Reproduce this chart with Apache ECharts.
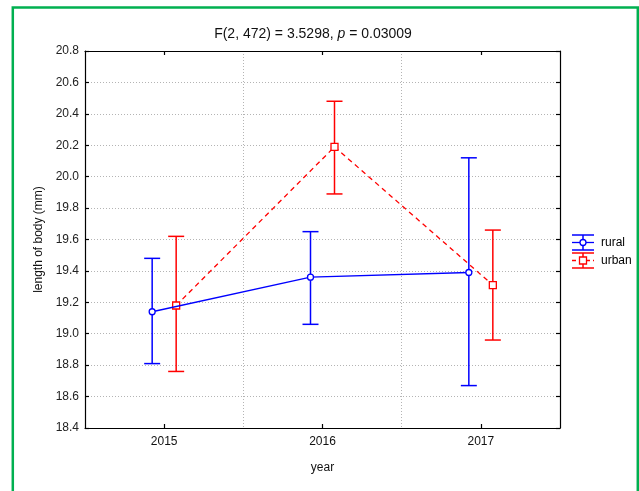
<!DOCTYPE html>
<html>
<head>
<meta charset="utf-8">
<script src="https://cdn.jsdelivr.net/npm/echarts@6/dist/echarts.min.js"></script>
<style>
  html, body { margin: 0; padding: 0; background: #fff; }
  #chart { width: 639px; height: 491px; }
</style>
</head>
<body>
<div id="chart"></div>
<script>
// Means with confidence limits of body length per year and habitat
const years = ['2015', '2016', '2017'];
const seriesNames = ['rural', 'urban'];
const ruralMean = [19.14, 19.36, 19.39];
const ruralLow  = [18.81, 19.06, 18.67];
const ruralHigh = [19.48, 19.65, 20.12];
const urbanMean = [19.18, 20.19, 19.31];
const urbanLow  = [18.76, 19.89, 18.96];
const urbanHigh = [19.62, 20.48, 19.66];
const yMin = 18.4, yMax = 20.8, yStep = 0.2;

const FONT = '"Liberation Sans", Arial, sans-serif';
const BLUE = '#0000ff', RED = '#ff0000';
const DODGE = 12;      // horizontal pixel shift of each group from the category centre
const CAP = 8;         // half width of error-bar caps

function groupRenderer(means, lows, highs, dx, color, dash, marker) {
  return function (params, api) {
    const i = api.value(0);
    const p = api.coord([i, means[i]]);
    const x = p[0] + dx;
    const yHi = api.coord([i, highs[i]])[1];
    const yLo = api.coord([i, lows[i]])[1];
    const children = [];
    if (i < means.length - 1) {
      const q = api.coord([i + 1, means[i + 1]]);
      children.push({
        type: 'line',
        shape: { x1: x, y1: p[1], x2: q[0] + dx, y2: q[1] },
        style: { stroke: color, lineWidth: 1.3, lineDash: dash }
      });
    }
    const barStyle = { stroke: color, lineWidth: 1.5 };
    children.push({ type: 'line', shape: { x1: x, y1: yHi, x2: x, y2: yLo }, style: barStyle });
    children.push({ type: 'line', shape: { x1: x - CAP, y1: yHi, x2: x + CAP, y2: yHi }, style: barStyle });
    children.push({ type: 'line', shape: { x1: x - CAP, y1: yLo, x2: x + CAP, y2: yLo }, style: barStyle });
    if (marker === 'circle') {
      children.push({ type: 'circle', shape: { cx: x, cy: p[1], r: 3 },
        style: { fill: '#fff', stroke: color, lineWidth: 1.3 } });
    } else {
      children.push({ type: 'rect', shape: { x: x - 3.5, y: p[1] - 3.5, width: 7, height: 7 },
        style: { fill: '#fff', stroke: color, lineWidth: 1.3 } });
    }
    return { type: 'group', children: children };
  };
}

function rows(means, lows, highs) {
  return years.map((y, i) => [i, means[i], lows[i], highs[i]]);
}

// Legend entries drawn as small error-bar glyphs
function legendEntry(top, color, dash, marker, label) {
  const x0 = 572, x1 = 594, xc = 583;
  const s = { stroke: color, lineWidth: 1.5 };
  const items = [
    { type: 'line', shape: { x1: x0, y1: top, x2: x1, y2: top }, style: s },
    { type: 'line', shape: { x1: x0, y1: top + 15, x2: x1, y2: top + 15 }, style: s },
    { type: 'line', shape: { x1: xc, y1: top, x2: xc, y2: top + 15 }, style: s },
    { type: 'line', shape: { x1: x0, y1: top + 7.5, x2: x1, y2: top + 7.5 },
      style: { stroke: color, lineWidth: 1.3, lineDash: dash } },
    marker === 'circle'
      ? { type: 'circle', shape: { cx: xc, cy: top + 7.5, r: 3 }, style: { fill: '#fff', stroke: color, lineWidth: 1.3 } }
      : { type: 'rect', shape: { x: xc - 3.5, y: top + 4, width: 7, height: 7 }, style: { fill: '#fff', stroke: color, lineWidth: 1.3 } },
    { type: 'text', x: 601, y: top + 7.5,
      style: { text: label, fill: '#000', font: '12px ' + FONT, textVerticalAlign: 'middle' } }
  ];
  return items;
}

const chart = echarts.init(document.getElementById('chart'), null, { renderer: 'canvas' });

const gridLine = { show: true, lineStyle: { color: '#b4b4b4', type: [1, 2], width: 1 } };
const tickStyle = { show: true, inside: true, length: 4, lineStyle: { color: '#000', width: 1.2 } };
const axisBase = {
  axisLine: { show: true, onZero: false, lineStyle: { color: '#000', width: 1.2 } },
  axisTick: tickStyle
};
const catTick = Object.assign({}, tickStyle, { alignWithLabel: true });

chart.setOption({
  animation: false,
  backgroundColor: '#fff',
  title: {
    text: '{n|F(2, 472) = 3.5298, }{i|p}{n| = 0.03009}',
    left: 308, top: 22, textAlign: 'center',
    textStyle: {
      fontWeight: 'normal',
      rich: {
        n: { fontFamily: FONT, fontSize: 14, color: '#111', fontWeight: 'normal' },
        i: { fontFamily: FONT, fontSize: 14, color: '#111', fontWeight: 'normal', fontStyle: 'italic' }
      }
    }
  },
  grid: { left: 85, right: 79, top: 51, bottom: 63 },
  xAxis: [
    Object.assign({}, axisBase, {
      type: 'category', data: years, position: 'bottom',
      name: 'year', nameLocation: 'middle', nameGap: 34,
      nameTextStyle: { fontFamily: FONT, fontSize: 12, color: '#111' },
      axisLabel: { fontFamily: FONT, fontSize: 12, color: '#111', margin: 8 },
      axisTick: catTick,
      splitLine: gridLine
    }),
    Object.assign({}, axisBase, {
      type: 'category', data: years, position: 'top',
      axisLabel: { show: false }, splitLine: { show: false },
      axisTick: catTick
    })
  ],
  yAxis: [
    Object.assign({}, axisBase, {
      type: 'value', min: yMin, max: yMax, interval: yStep, position: 'left',
      name: 'length of body (mm)', nameLocation: 'middle', nameGap: 40, nameRotate: 90,
      nameTextStyle: { fontFamily: FONT, fontSize: 12, color: '#111' },
      axisLabel: { fontFamily: FONT, fontSize: 12, color: '#222', margin: 6,
        formatter: v => v.toFixed(1) },
      splitLine: gridLine
    }),
    Object.assign({}, axisBase, {
      type: 'value', min: yMin, max: yMax, interval: yStep, position: 'right',
      axisLabel: { show: false }, splitLine: { show: false }
    })
  ],
  graphic: [
    { type: 'rect', shape: { x: 12.8, y: 7.5, width: 625, height: 500 },
      style: { fill: 'none', stroke: '#00b050', lineWidth: 2.5 }, z: 100 },
    { type: 'group', children: legendEntry(235, BLUE, null, 'circle', seriesNames[0]) },
    { type: 'group', children: legendEntry(253, RED, [4, 3], 'square', seriesNames[1]) }
  ],
  series: [
    {
      name: seriesNames[0], type: 'custom', xAxisIndex: 0, yAxisIndex: 0,
      renderItem: groupRenderer(ruralMean, ruralLow, ruralHigh, -DODGE, BLUE, null, 'circle'),
      encode: { x: 0, y: 1 },
      data: rows(ruralMean, ruralLow, ruralHigh), z: 3
    },
    {
      name: seriesNames[1], type: 'custom', xAxisIndex: 0, yAxisIndex: 0,
      renderItem: groupRenderer(urbanMean, urbanLow, urbanHigh, DODGE, RED, [5, 4], 'square'),
      encode: { x: 0, y: 1 },
      data: rows(urbanMean, urbanLow, urbanHigh), z: 2
    }
  ]
});
</script>
</body>
</html>
